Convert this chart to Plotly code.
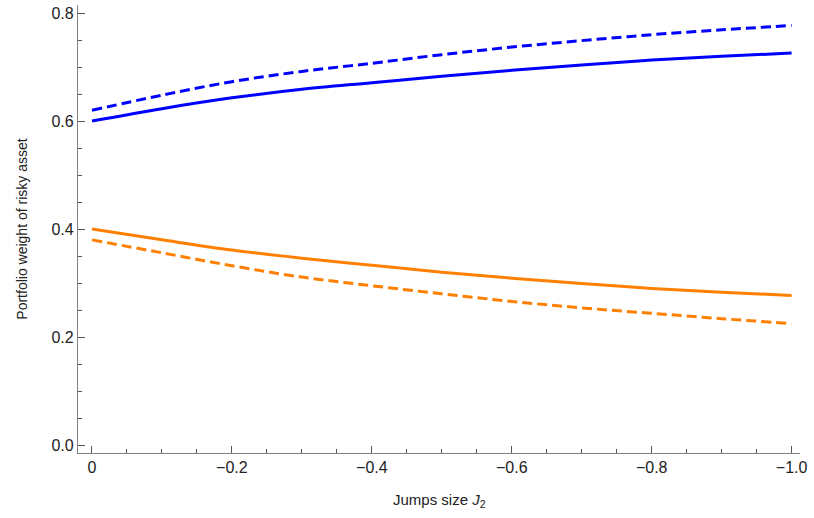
import plotly.graph_objects as go

jump_size = [0.0, -0.1, -0.2, -0.3, -0.4, -0.5, -0.6, -0.7, -0.8, -0.9, -1.0]
blue_solid = [0.600, 0.623, 0.643, 0.659, 0.671, 0.683, 0.694, 0.704, 0.713, 0.720, 0.726]
blue_dashed = [0.620, 0.648, 0.673, 0.692, 0.707, 0.723, 0.737, 0.749, 0.760, 0.769, 0.777]
orange_solid = [0.400, 0.380, 0.361, 0.346, 0.333, 0.320, 0.309, 0.299, 0.290, 0.283, 0.277]
orange_dashed = [0.380, 0.356, 0.332, 0.311, 0.295, 0.280, 0.266, 0.254, 0.244, 0.234, 0.225]

x_ticks = [0, -0.2, -0.4, -0.6, -0.8, -1.0]
x_tick_labels = ["0", "\u22120.2", "\u22120.4", "\u22120.6", "\u22120.8", "\u22121.0"]
y_ticks = [0, 0.2, 0.4, 0.6, 0.8]
y_tick_labels = ["0.0", "0.2", "0.4", "0.6", "0.8"]

BLUE = "#0000FF"
ORANGE = "#FF8000"
FONT = "Liberation Sans, Arial, sans-serif"

fig = go.Figure()
series = [
    (blue_dashed, BLUE, "10px,5px"),
    (blue_solid, BLUE, "solid"),
    (orange_solid, ORANGE, "solid"),
    (orange_dashed, ORANGE, "10px,5px"),
]
for ys, col, dash in series:
    fig.add_trace(go.Scatter(x=jump_size, y=ys, mode="lines",
                             line=dict(color=col, width=3, dash=dash, shape="spline"),
                             showlegend=False, hoverinfo="skip"))

axis_common = dict(
    showgrid=False, zeroline=False, showline=True, linecolor="#808080", linewidth=1.3,
    ticks="inside", ticklen=7, tickwidth=1, tickcolor="#555555", automargin=False,
    tickfont=dict(family=FONT, size=16, color="#222222"),
    minor=dict(ticks="inside", ticklen=4, tickwidth=1, tickcolor="#555555", dtick=0.05, showgrid=False),
)

fig.update_xaxes(range=[0.02, -1.012], tickvals=x_ticks, ticktext=x_tick_labels, **axis_common)
fig.update_yaxes(range=[-0.0148, 0.815], tickvals=y_ticks, ticktext=y_tick_labels, **axis_common)

fig.add_annotation(text="Jumps size <i>J</i><sub>2</sub>", xref="paper", yref="paper",
                   x=0.5, y=-0.105, xanchor="center", yanchor="middle", showarrow=False,
                   font=dict(family=FONT, size=15, color="#222222"))
fig.add_annotation(text="Portfolio weight of risky asset", xref="paper", yref="paper",
                   x=-0.078, y=0.5, xanchor="center", yanchor="middle", textangle=-90, showarrow=False,
                   font=dict(family=FONT, size=14, color="#222222"))

fig.update_layout(width=814, height=518, plot_bgcolor="white", paper_bgcolor="white",
                  margin=dict(l=78, r=14, t=5, b=65))

fig.write_html("out.html", config={"displayModeBar": False},
               post_script="document.body.style.margin='0';")
